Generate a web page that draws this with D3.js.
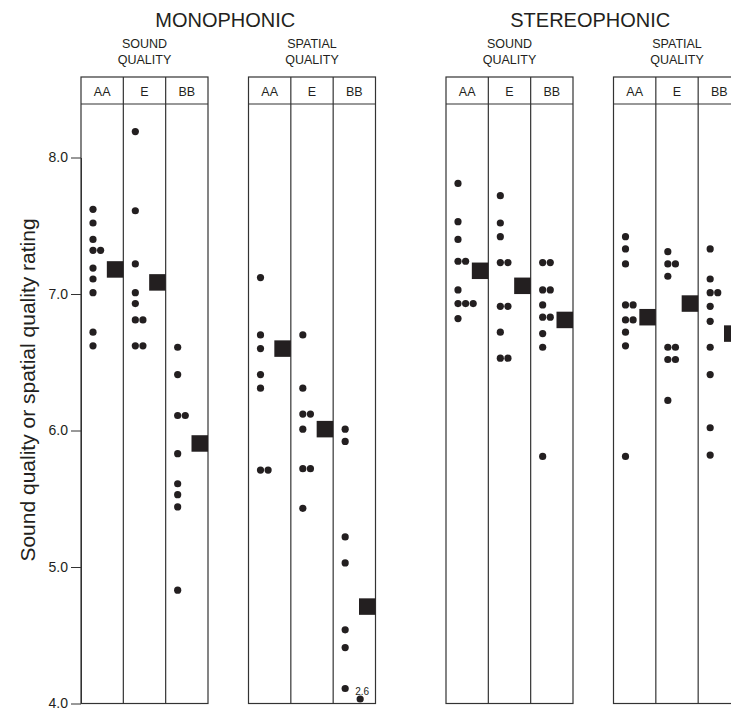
<!DOCTYPE html>
<html><head><meta charset="utf-8">
<script src="https://cdn.jsdelivr.net/npm/d3@7"></script>
<style>
body{margin:0;background:#fff}
text{font-family:"Liberation Sans",Arial,Helvetica,sans-serif;fill:#231f20}
</style>
</head><body><svg id="c" width="731" height="711"></svg>
<script>
// ---- data ----
const conditions = ["MONOPHONIC", "STEREOPHONIC"];
const attributes = [["SOUND", "QUALITY"], ["SPATIAL", "QUALITY"]];
const systems = ["AA", "E", "BB"];
const yTicks = [4, 5, 6, 7, 8];

const monoSoundAA = [7.62, 7.52, 7.40, 7.32, 7.32, 7.19, 7.11, 7.01, 6.72, 6.62];
const monoSoundE = [8.19, 7.61, 7.22, 7.01, 6.93, 6.81, 6.81, 6.62, 6.62];
const monoSoundBB = [6.61, 6.41, 6.11, 6.11, 5.83, 5.61, 5.53, 5.44, 4.83];
const monoSpatialAA = [7.12, 6.70, 6.60, 6.41, 6.31, 5.71, 5.71];
const monoSpatialE = [6.70, 6.31, 6.12, 6.12, 6.01, 5.72, 5.72, 5.43];
const monoSpatialBB = [6.01, 5.92, 5.22, 5.03, 4.54, 4.41, 4.11, 2.6];
const stereoSoundAA = [7.81, 7.53, 7.40, 7.24, 7.24, 7.03, 6.93, 6.93, 6.93, 6.82];
const stereoSoundE = [7.72, 7.52, 7.42, 7.23, 7.23, 6.91, 6.91, 6.72, 6.53, 6.53];
const stereoSoundBB = [7.23, 7.23, 7.03, 7.03, 6.92, 6.83, 6.83, 6.71, 6.61, 5.81];
const stereoSpatialAA = [7.42, 7.33, 7.22, 6.92, 6.92, 6.81, 6.81, 6.72, 6.62, 5.81];
const stereoSpatialE = [7.31, 7.22, 7.22, 7.13, 6.61, 6.61, 6.52, 6.52, 6.22];
const stereoSpatialBB = [7.33, 7.11, 7.01, 7.01, 6.91, 6.80, 6.61, 6.41, 6.02, 5.82];

const monoSoundMeans = [7.18, 7.085, 5.905];
const monoSpatialMeans = [6.60, 6.01, 4.71];
const stereoSoundMeans = [7.17, 7.06, 6.81];
const stereoSpatialMeans = [6.83, 6.93, 6.71];

const panels = [
  {cond: 0, attr: 0, cols: [monoSoundAA, monoSoundE, monoSoundBB], means: monoSoundMeans},
  {cond: 0, attr: 1, cols: [monoSpatialAA, monoSpatialE, monoSpatialBB], means: monoSpatialMeans},
  {cond: 1, attr: 0, cols: [stereoSoundAA, stereoSoundE, stereoSoundBB], means: stereoSoundMeans},
  {cond: 1, attr: 1, cols: [stereoSpatialAA, stereoSpatialE, stereoSpatialBB], means: stereoSpatialMeans}
];

// ---- layout ----
const svg = d3.select("#c");
const ink = "#231f20", lineC = "#333";
const y = d3.scaleLinear().domain([4, 8]).range([703.5, 157.5]);
const condX = d3.scaleOrdinal().domain([0, 1]).range([81, 446]);
const attrX = d3.scaleOrdinal().domain([0, 1]).range([0, 167.5]);
const panelW = 127;
const colX = d3.scaleBand().domain(systems).range([0, panelW]);
const panelTop = 77, headH = 27;
const dotR = 3.6, dotOff = 12, dotGap = 7.6, sq = 16.5;

// titles
conditions.forEach((c, i) => {
  svg.append("text").attr("x", condX(i) + (panelW + 167.5) / 2 - 3).attr("y", 27)
    .attr("text-anchor", "middle").attr("font-size", 20).text(c);
});

// y axis
const ax = svg.append("g").attr("transform", "translate(81,0)")
  .call(d3.axisLeft(y).tickValues(yTicks).tickFormat(d3.format(".1f")).tickSize(10).tickSizeOuter(0).tickPadding(3));
ax.select(".domain").attr("stroke", lineC);
ax.selectAll(".tick line").attr("stroke", lineC);
ax.selectAll(".tick text").attr("font-size", 14).attr("fill", ink)
  .attr("font-family", "'Liberation Sans',Arial,sans-serif");

svg.append("text")
  .attr("transform", `translate(35,390) rotate(-90)`)
  .attr("text-anchor", "middle").attr("font-size", 21)
  .text("Sound quality or spatial quality rating");

panels.forEach(p => {
  const x0 = condX(p.cond) + attrX(p.attr);
  const g = svg.append("g").attr("transform", `translate(${x0},0)`);
  attributes[p.attr].forEach((t, k) => {
    g.append("text").attr("x", panelW / 2).attr("y", 48 + k * 16)
      .attr("text-anchor", "middle").attr("font-size", 12.5).text(t);
  });
  g.append("rect").attr("x", 0).attr("y", panelTop).attr("width", panelW).attr("height", y(4) - panelTop)
    .attr("fill", "none").attr("stroke", lineC).attr("stroke-width", 1.2);
  g.append("line").attr("x1", 0).attr("x2", panelW).attr("y1", panelTop + headH).attr("y2", panelTop + headH)
    .attr("stroke", lineC).attr("stroke-width", 1.2);
  systems.slice(1).forEach(s => {
    g.append("line").attr("x1", colX(s)).attr("x2", colX(s)).attr("y1", panelTop).attr("y2", y(4))
      .attr("stroke", lineC).attr("stroke-width", 1.2);
  });
  systems.forEach((s, ci) => {
    const cx = colX(s);
    g.append("text").attr("x", cx + colX.bandwidth() / 2).attr("y", panelTop + 18.5)
      .attr("text-anchor", "middle").attr("font-size", 12.5).text(s);
    const seen = new Map();
    p.cols[ci].forEach(v => {
      const k = seen.get(v) || 0; seen.set(v, k + 1);
      if (v < 4) {
        g.append("circle").attr("cx", cx + dotOff + 15).attr("cy", y(4) - 4.5).attr("r", dotR).attr("fill", ink);
        g.append("text").attr("x", cx + dotOff + 10).attr("y", y(4) - 9)
          .attr("font-size", 10).text(String(v));
      } else {
        g.append("circle").attr("cx", cx + dotOff + k * dotGap).attr("cy", y(v)).attr("r", dotR).attr("fill", ink);
      }
    });
    const m = p.means[ci];
    g.append("rect").attr("x", cx + colX.bandwidth() - sq).attr("y", y(m) - sq / 2)
      .attr("width", sq).attr("height", sq).attr("fill", ink);
  });
});
</script></body></html>
